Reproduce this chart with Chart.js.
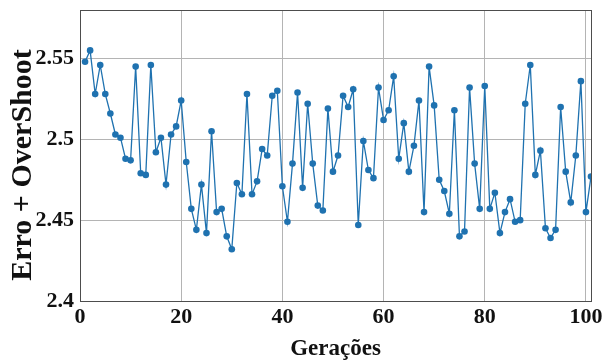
<!DOCTYPE html>
<html>
<head>
<meta charset="utf-8">
<script src="https://cdn.jsdelivr.net/npm/chart.js@4"></script>
<style>
  html, body { margin: 0; padding: 0; background: #fff; }
  #wrap { width: 605px; height: 363px; }
</style>
</head>
<body>
<div id="wrap"><canvas id="c" width="605" height="363"></canvas></div>
<script>
const generations = [1,2,3,4,5,6,7,8,9,10,11,12,13,14,15,16,17,18,19,20,21,22,23,24,25,26,27,28,29,30,31,32,33,34,35,36,37,38,39,40,41,42,43,44,45,46,47,48,49,50,51,52,53,54,55,56,57,58,59,60,61,62,63,64,65,66,67,68,69,70,71,72,73,74,75,76,77,78,79,80,81,82,83,84,85,86,87,88,89,90,91,92,93,94,95,96,97,98,99,100,101];
const errorOvershoot = [
  2.548, 2.555, 2.528, 2.546, 2.528, 2.516, 2.503, 2.501, 2.488, 2.487,
  2.545, 2.479, 2.478, 2.546, 2.492, 2.501, 2.472, 2.503, 2.508, 2.524,
  2.486, 2.457, 2.444, 2.472, 2.442, 2.505, 2.455, 2.457, 2.440, 2.432,
  2.473, 2.466, 2.528, 2.466, 2.474, 2.494, 2.490, 2.527, 2.530, 2.471,
  2.449, 2.485, 2.529, 2.470, 2.522, 2.485, 2.459, 2.456, 2.519, 2.480,
  2.490, 2.527, 2.520, 2.531, 2.447, 2.499, 2.481, 2.476, 2.532, 2.512,
  2.518, 2.539, 2.488, 2.510, 2.480, 2.496, 2.524, 2.455, 2.545, 2.521,
  2.475, 2.468, 2.454, 2.518, 2.440, 2.443, 2.532, 2.485, 2.457, 2.533,
  2.457, 2.467, 2.442, 2.455, 2.463, 2.449, 2.450, 2.522, 2.546, 2.478,
  2.493, 2.445, 2.439, 2.444, 2.520, 2.480, 2.461, 2.490, 2.536, 2.455,
  2.477
];
const xTicks = [0, 20, 40, 60, 80, 100];
const xTickLabels = ['0', '20', '40', '60', '80', '100'];
const yTicks = [2.4, 2.45, 2.5, 2.55];
const yTickLabels = ['2.4', '2.45', '2.5', '2.55'];
const xTitle = 'Gerações';
const yTitle = 'Erro + OverShoot';

const points = generations.map((g, i) => ({ x: g, y: errorOvershoot[i] }));
const serif = "'Liberation Serif', 'Times New Roman', serif";
const lineColor = '#1f72b0';

const boxPlugin = {
  id: 'box',
  afterDraw(chart) {
    const a = chart.chartArea, ctx = chart.ctx;
    ctx.save();
    ctx.strokeStyle = '#4d4d4d';
    ctx.lineWidth = 1;
    ctx.strokeRect(Math.round(a.left) + 0.5, Math.round(a.top) + 0.5,
                   Math.round(a.right - a.left), Math.round(a.bottom - a.top));
    // y-axis title (slightly below the axis centre, as in the reference)
    ctx.translate(23, 165);
    ctx.rotate(-Math.PI / 2);
    ctx.font = "bold 30px " + serif;
    ctx.fillStyle = '#111';
    ctx.textAlign = 'center';
    ctx.textBaseline = 'middle';
    ctx.fillText(yTitle, 0, 0);
    ctx.restore();
  }
};

new Chart(document.getElementById('c'), {
  type: 'line',
  data: {
    datasets: [{
      data: points,
      borderColor: lineColor,
      backgroundColor: lineColor,
      borderWidth: 1.3,
      pointRadius: 3.3,
      pointBorderWidth: 0,
      pointBackgroundColor: lineColor,
      tension: 0,
      fill: false
    }]
  },
  options: {
    responsive: false,
    animation: false,
    layout: { padding: { top: 10, right: 14, left: 0, bottom: 0 } },
    plugins: { legend: { display: false }, tooltip: { enabled: false } },
    scales: {
      x: {
        type: 'linear',
        min: 0,
        max: 101,
        afterBuildTicks(scale) { scale.ticks = xTicks.map(v => ({ value: v })); },
        afterFit(scale) { scale.height = 62; scale.paddingLeft = 0; scale.paddingRight = 0; },
        grid: { color: '#b4b4b4', lineWidth: 1, drawTicks: false },
        border: { display: false },
        ticks: {
          padding: 3,
          color: '#111',
          font: { family: serif, size: 22, weight: 'bold' },
          callback(v) { const i = xTicks.indexOf(v); return i >= 0 ? xTickLabels[i] : ''; }
        },
        title: {
          display: true,
          text: xTitle,
          color: '#111',
          padding: { top: -2, bottom: 0 },
          font: { family: serif, size: 23, weight: 'bold' }
        }
      },
      y: {
        type: 'linear',
        min: 2.4,
        max: 2.58,
        afterBuildTicks(scale) { scale.ticks = yTicks.map(v => ({ value: v })); },
        afterFit(scale) { scale.width = 80; scale.paddingTop = 0; scale.paddingBottom = 0; },
        grid: { color: '#b4b4b4', lineWidth: 1, drawTicks: false },
        border: { display: false },
        ticks: {
          padding: 6,
          color: '#111',
          font: { family: serif, size: 22, weight: 'bold' },
          callback(v) {
            const i = yTicks.findIndex(t => Math.abs(t - v) < 1e-9);
            return i >= 0 ? yTickLabels[i] : '';
          }
        },
        title: { display: false }
      }
    }
  },
  plugins: [boxPlugin]
});
</script>
</body>
</html>
